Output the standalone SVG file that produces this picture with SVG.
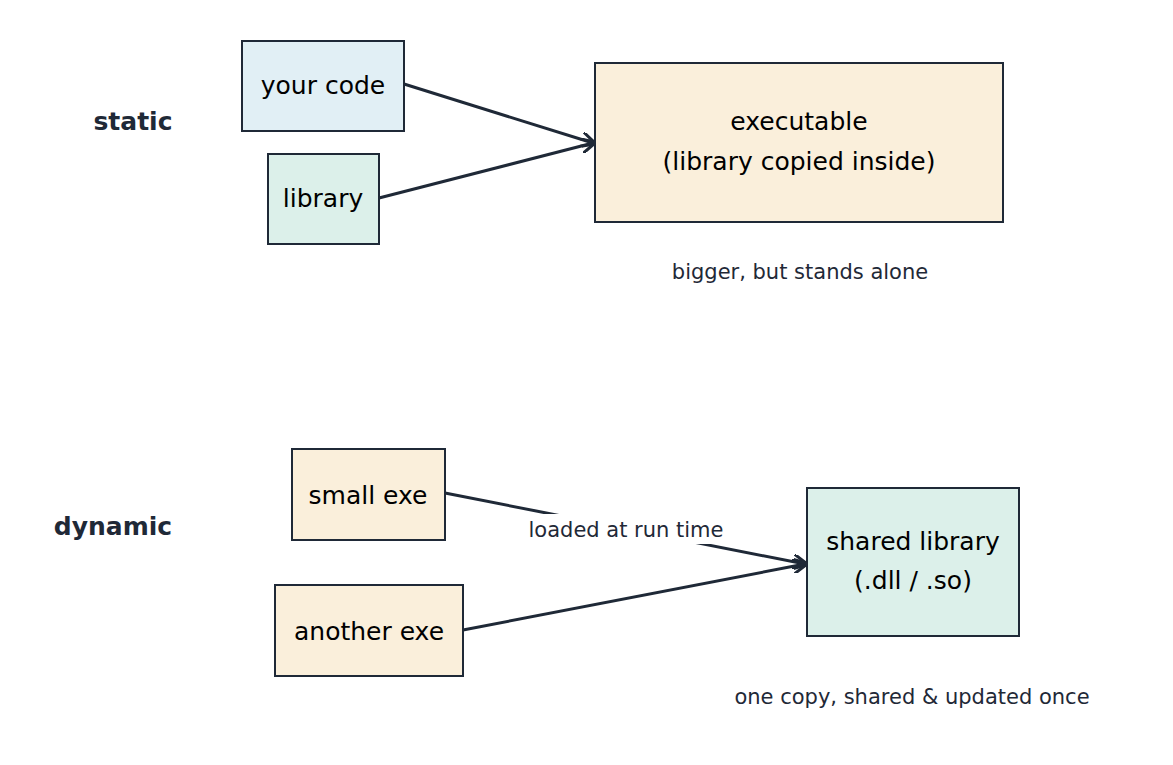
<svg xmlns="http://www.w3.org/2000/svg" width="1173" height="765" viewBox="0 0 1173 765">
<style>
.b{stroke:#1f2937;stroke-width:2}
.t{font-family:"DejaVu Sans",sans-serif;font-size:25px;fill:#000;text-anchor:middle}
.h{font-family:"DejaVu Sans",sans-serif;font-size:25px;font-weight:bold;fill:#1f2937;text-anchor:middle}
.n{font-family:"DejaVu Sans",sans-serif;font-size:21px;fill:#1f2937;text-anchor:middle}
.c{stroke:#1f2937;stroke-width:3;fill:none;marker-end:url(#a)}
</style>
<defs><marker id="a" viewBox="0 0 10 10" refX="8" refY="5" markerWidth="5" markerHeight="5" orient="auto" markerUnits="strokeWidth"><path d="M0,0 L10,5 L0,10" fill="none" stroke="#1f2937" stroke-width="2"/></marker></defs>
<rect width="1173" height="765" fill="#fff"/>
<text class="h" x="133" y="130">static</text>
<text class="h" x="113" y="535">dynamic</text>
<g id="connectors">
<path class="c" d="M404,84 L593,143"/>
<path class="c" d="M379,198 L593,143"/>
<path class="c" d="M445,493 L805,564"/>
<path class="c" d="M463,630 L805,564"/>
<rect x="510" y="514" width="232" height="30" fill="#fff"/>
<text class="n" x="626" y="537">loaded at run time</text>
</g>
<g id="yourcode"><rect class="b" x="242" y="41" width="162" height="90" fill="#e1eff5"/><text class="t" x="323" y="94">your code</text></g>
<g id="library"><rect class="b" x="268" y="154" width="111" height="90" fill="#dcf0ea"/><text class="t" x="323" y="207">library</text></g>
<g id="executable"><rect class="b" x="595" y="63" width="408" height="159" fill="#faefdb"/><text class="t" x="799" y="130">executable</text><text class="t" x="799" y="170">(library copied inside)</text></g>
<text class="n" x="800" y="279">bigger, but stands alone</text>
<g id="smallexe"><rect class="b" x="292" y="449" width="153" height="91" fill="#faefdb"/><text class="t" x="368" y="504">small exe</text></g>
<g id="anotherexe"><rect class="b" x="275" y="585" width="188" height="91" fill="#faefdb"/><text class="t" x="369" y="640">another exe</text></g>
<g id="shared"><rect class="b" x="807" y="488" width="212" height="148" fill="#dcf0ea"/><text class="t" x="913" y="550">shared library</text><text class="t" x="913" y="589">(.dll / .so)</text></g>
<text class="n" x="912" y="704">one copy, shared &amp; updated once</text>
</svg>
